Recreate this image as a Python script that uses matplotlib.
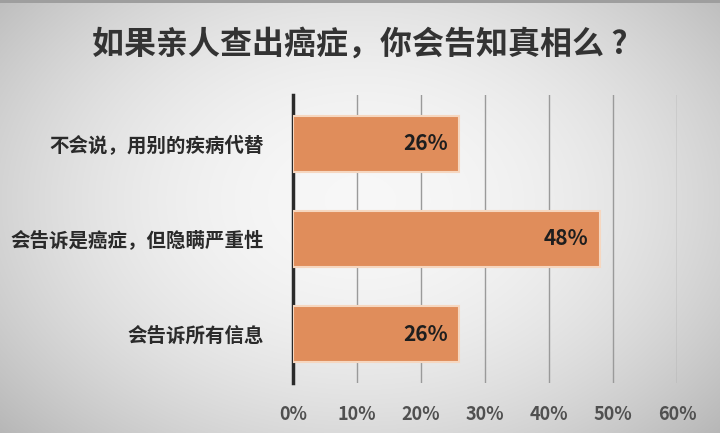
import numpy as np
import matplotlib
matplotlib.use("Agg")
import matplotlib.pyplot as plt

plt.rcParams['font.family'] = ['Noto Sans CJK SC', 'DejaVu Sans']

title = "如果亲人查出癌症，你会告知真相么 ?"
categories = ["不会说，用别的疾病代替", "会告诉是癌症，但隐瞒严重性", "会告诉所有信息"]
values = [26, 48, 26]
xticks = [0, 10, 20, 30, 40, 50, 60]
xticklabels = ["0%", "10%", "20%", "30%", "40%", "50%", "60%"]

fig = plt.figure(figsize=(7.2, 4.33), dpi=100)

# radial gradient background
bg = fig.add_axes([0, 0, 1, 1], zorder=-10)
yy, xx = np.mgrid[0:433, 0:720]
r = np.sqrt(((xx - 360) / 420.0) ** 2 + ((yy - 200) / 300.0) ** 2)
shade = 0.97 - 0.19 * np.clip(r, 0, 1.3) ** 2
shade[:3, :] = 0.62
img = np.dstack([shade, shade, shade])
bg.imshow(img, aspect='auto', extent=[0, 1, 0, 1])
bg.axis('off')

ax = fig.add_axes([293/720, 1 - 383/433, (677 - 293)/720, (383 - 95)/433])
ax.patch.set_alpha(0)
y = np.arange(len(categories))
ax.barh(y, values, height=0.58, color='#E08D5B', edgecolor='#F6D7C0', linewidth=1.5, zorder=3)
for yi, v in zip(y, values):
    ax.text(v - 1.8, yi, f"{v}%", ha='right', va='center', fontsize=15,
            fontweight='bold', color='#1e1e1e', zorder=4)

ax.set_xlim(0, 60)
ax.set_ylim(2.515, -0.515)
ax.set_xticks(xticks)
ax.set_xticklabels(xticklabels, fontsize=13, fontweight='bold', color='#505050')
ax.set_yticks(y)
ax.set_yticklabels(categories, fontsize=14, fontweight='bold', color='#2a2a2a')
ax.tick_params(axis='both', length=0)
ax.tick_params(axis='x', pad=16)
ax.tick_params(axis='y', pad=21)
ax.xaxis.grid(True, color='#9a9a9a', linewidth=1.0, zorder=0)
ax.set_axisbelow(True)
for s in ['top', 'right', 'bottom']:
    ax.spines[s].set_visible(False)
ax.spines['left'].set_color('#2a2a2a')
ax.spines['left'].set_linewidth(2.5)

fig.text(0.5, 1 - 45/433, title, ha='center', va='center', fontsize=23,
         fontweight='bold', color='#333333')

fig.savefig("out.png", dpi=100)
